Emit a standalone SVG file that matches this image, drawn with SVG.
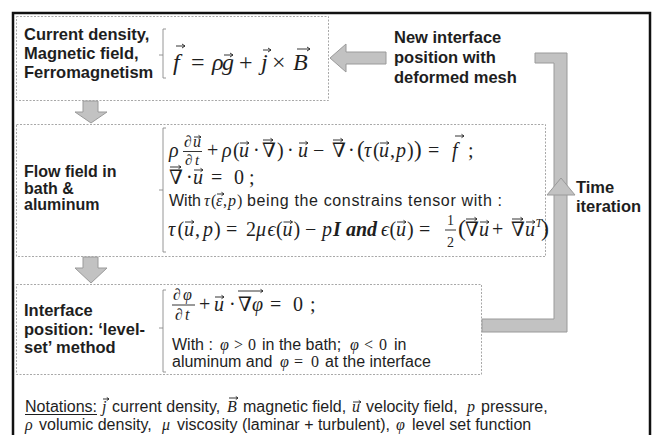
<svg xmlns="http://www.w3.org/2000/svg" width="653" height="435" viewBox="0 0 653 435">
<style>
.lbl{font-family:"Liberation Sans",Arial,sans-serif;font-weight:bold;font-size:16.5px;fill:#1e1e1e}
.mi{font-family:"Liberation Serif","DejaVu Serif",serif;font-style:italic;fill:#1e1e1e}
.mu{font-family:"Liberation Serif","DejaVu Serif",serif;font-style:normal;fill:#1e1e1e}
.mb{font-family:"Liberation Serif","DejaVu Serif",serif;font-style:italic;font-weight:bold;fill:#1e1e1e}
.tx{font-family:"Liberation Sans",Arial,sans-serif;font-style:normal;font-size:16px;fill:#1e1e1e}
.box{fill:none;stroke:#a8a8a8;stroke-width:1;stroke-dasharray:2 1.5}
.brk{fill:none;stroke:#8a8a8a;stroke-width:0.9}
.va{fill:none;stroke:#1e1e1e;stroke-width:0.9}
.bar{fill:none;stroke:#1e1e1e;stroke-width:0.9}
.blk{fill:#c2c2c2;stroke:#9a9a9a;stroke-width:1}
</style>
<rect x="0" y="0" width="653" height="435" fill="#ffffff"/>
<path d="M13 436 V13 H650 V436" fill="none" stroke="#111111" stroke-width="2.5"/>

<g id="connectors">
  <polygon class="blk" points="330,58 346,44 346,52 386,52 386,64 346,64 346,72"/>
  <polygon class="blk" points="83,101 98,101 98,112 107,112 91,123 75,112 83,112"/>
  <polygon class="blk" points="83,257 98,257 98,268 107,268 91,283 75,268 83,268"/>
  <polygon class="blk" points="482,319 554,319 554,63 535,63 535,53 567,53 567,332 482,332"/>
  <polygon class="blk" points="561,178 575,195 547,195"/>
  <text class="lbl" x="394" y="43">New interface</text>
  <text class="lbl" x="394" y="63">position with</text>
  <text class="lbl" x="394" y="83">deformed mesh</text>
  <text class="lbl" x="576" y="193">Time</text>
  <text class="lbl" x="576" y="212">iteration</text>
</g>

<g id="node-forces">
  <rect class="box" x="16.5" y="16.5" width="312" height="84"/>
  <text class="lbl" x="24" y="40">Current density,</text>
  <text class="lbl" x="24" y="59">Magnetic field,</text>
  <text class="lbl" x="24" y="78">Ferromagnetism</text>
  <path class="brk" d="M166 29 H163 V78 H166 M163 55 H159"/>
  <text class="mu" font-size="24" y="70"><tspan class="mi" x="173">f</tspan><tspan x="191">=</tspan><tspan class="mi" x="212 222">ρg</tspan><tspan x="239">+</tspan><tspan class="mi" x="261">j</tspan><tspan x="272">×</tspan><tspan class="mi" x="293">B</tspan></text>
  <path class="va" d="M176 46 H185 M182 44 L185 46 L182 48 M224 55 H233 M230 53 L233 55 L230 57 M263 50 H271 M268 48 L271 50 L268 52 M297 49 H310 M307 47 L310 49 L307 51"/>
</g>

<g id="node-flow">
  <rect class="box" x="16.5" y="124.5" width="529" height="132"/>
  <text class="lbl" font-size="16" style="font-size:16px" x="24" y="177">Flow field in</text>
  <text class="lbl" style="font-size:16px" x="24" y="193.5">bath &amp;</text>
  <text class="lbl" style="font-size:16px" x="24" y="210">aluminum</text>
  <path class="brk" d="M166 128 H163 V252 H166 M163 190 H159"/>
  <!-- line 1 -->
  <text class="mu" font-size="16" y="147"><tspan x="184">∂</tspan><tspan class="mi" x="193">u</tspan></text>
  <path class="bar" d="M183 151.5 H202"/>
  <text class="mu" font-size="15" y="164.5"><tspan x="185">∂</tspan><tspan class="mi" x="195">t</tspan></text>
  <text class="mu" font-size="20" y="157"><tspan class="mi" x="169">ρ</tspan><tspan x="207">+</tspan><tspan class="mi" x="222">ρ</tspan><tspan x="233">(</tspan><tspan class="mi" x="239">u</tspan><tspan x="253 262 277 287">·∇)·</tspan><tspan class="mi" x="298">u</tspan><tspan x="313 332 348">−∇·</tspan><tspan font-size="23" x="357">(</tspan><tspan class="mi" x="364">τ</tspan><tspan x="373">(</tspan><tspan class="mi" x="379">u</tspan><tspan x="390">,</tspan><tspan class="mi" x="396">p</tspan><tspan x="407">)</tspan><tspan font-size="23" x="414">)</tspan><tspan x="428">=</tspan><tspan class="mi" x="452">f</tspan><tspan x="468">;</tspan></text>
  <path class="va" d="M194 137 H201 M198.5 135.3 L201 137 L198.5 138.7 M240 143 H249 M246.5 141.3 L249 143 L246.5 144.7 M263 140 H273 M270.5 138.3 L273 140 L270.5 141.7 M299 143 H308 M305.5 141.3 L308 143 L305.5 144.7 M333 140 H343 M340.5 138.3 L343 140 L340.5 141.7 M380 143 H389 M386.5 141.3 L389 143 L386.5 144.7 M455 136 H464 M461.5 134.3 L464 136 L461.5 137.7"/>
  <!-- line 2 -->
  <text class="mu" font-size="20" y="184"><tspan x="169 186">∇·</tspan><tspan class="mi" x="193">u</tspan><tspan x="211 234 249">=0;</tspan></text>
  <path class="va" d="M170 167 H181 M178.5 165.3 L181 167 L178.5 168.7 M194 170 H203 M200.5 168.3 L203 170 L200.5 171.7"/>
  <!-- line 3 -->
  <text class="tx" y="206"><tspan x="169">With</tspan><tspan class="mi" font-size="16" x="204">τ</tspan><tspan class="mu" font-size="16" x="211">(</tspan><tspan class="mi" font-size="16" x="216">ε</tspan><tspan class="mu" font-size="16" x="223">,</tspan><tspan class="mi" font-size="16" x="228">p</tspan><tspan class="mu" font-size="16" x="237">)</tspan><tspan x="247" textLength="255" lengthAdjust="spacing">being the constrains tensor with :</tspan></text>
  <path class="va" d="M217 194 H224 M221.5 192.3 L224 194 L221.5 195.7"/>
  <!-- line 4 -->
  <text class="mu" font-size="20" y="236"><tspan class="mi" x="168">τ</tspan><tspan x="177.5">(</tspan><tspan class="mi" x="184">u</tspan><tspan x="195">,</tspan><tspan class="mi" x="203">p</tspan><tspan x="214 226 246">)=2</tspan><tspan class="mi" x="256 267.5">μϵ</tspan><tspan x="276">(</tspan><tspan class="mi" x="282.5">u</tspan><tspan x="293.5 305">)−</tspan><tspan class="mi" x="322">p</tspan><tspan class="mb" x="333">I</tspan><tspan class="mb" x="346">and</tspan><tspan class="mi" x="381">ϵ</tspan><tspan x="389.5">(</tspan><tspan class="mi" x="396">u</tspan><tspan x="407 419">)=</tspan><tspan font-size="24" x="458">(</tspan><tspan x="465">∇</tspan><tspan class="mi" x="479">u</tspan><tspan x="492 511">+∇</tspan><tspan class="mi" x="525">u</tspan><tspan font-size="24" x="541">)</tspan></text>
  <text class="mu" font-size="14" y="225" x="447">1</text>
  <path class="bar" d="M445 230 H456"/>
  <text class="mu" font-size="14" y="247" x="447">2</text>
  <text class="mi" font-size="12" y="227" x="535.5">T</text>
  <path class="va" d="M185 222 H194 M191.5 220.3 L194 222 L191.5 223.7 M283.5 222 H292.5 M290 220.3 L292.5 222 L290 223.7 M397 222 H406 M403.5 220.3 L406 222 L403.5 223.7 M466 219 H477 M474.5 217.3 L477 219 L474.5 220.7 M480 222 H489 M486.5 220.3 L489 222 L486.5 223.7 M512 219 H523 M520.5 217.3 L523 219 L520.5 220.7 M526 222 H535 M532.5 220.3 L535 222 L532.5 223.7"/>
</g>

<g id="node-levelset">
  <rect class="box" x="16.5" y="284.5" width="465" height="90"/>
  <text class="lbl" x="24" y="316">Interface</text>
  <text class="lbl" x="24" y="334.5">position: ‘level-</text>
  <text class="lbl" x="24" y="353">set’ method</text>
  <path class="brk" d="M166 290 H163 V372 H166 M163 328 H159"/>
  <text class="mu" font-size="16" y="300"><tspan x="173">∂</tspan><tspan class="mi" x="183">φ</tspan></text>
  <path class="bar" d="M172 305 H195"/>
  <text class="mu" font-size="16" y="320"><tspan x="175">∂</tspan><tspan class="mi" x="185">t</tspan></text>
  <text class="mu" font-size="20" y="311"><tspan x="199">+</tspan><tspan class="mi" x="214">u</tspan><tspan x="229 238">·∇</tspan><tspan class="mi" x="252">φ</tspan><tspan x="270 293 310">=0;</tspan></text>
  <path class="va" d="M215 297 H224 M221.5 295.3 L224 297 L221.5 298.7 M238 291 H263 M260.5 289.3 L263 291 L260.5 292.7"/>
  <text class="tx" y="350"><tspan x="172">With :</tspan><tspan class="mi" x="220">φ</tspan><tspan class="mu" x="234 248">&gt;0</tspan><tspan x="262">in the bath;</tspan><tspan class="mi" x="350">φ</tspan><tspan class="mu" x="364 379">&lt;0</tspan><tspan x="394">in</tspan></text>
  <text class="tx" y="367"><tspan x="172">aluminum and</tspan><tspan class="mi" x="280">φ</tspan><tspan class="mu" x="294 311">=0</tspan><tspan x="325">at the interface</tspan></text>
</g>

<g id="notations">
  <text class="tx" y="412"><tspan x="25">Notations:</tspan><tspan class="mi" x="102">j</tspan><tspan x="112">current density,</tspan><tspan class="mi" x="227">B</tspan><tspan x="243">magnetic field,</tspan><tspan class="mi" x="352">u</tspan><tspan x="366">velocity field,</tspan><tspan class="mi" x="467">p</tspan><tspan x="481">pressure,</tspan></text>
  <path d="M25 414.5 H97" stroke="#1e1e1e" stroke-width="1"/>
  <path class="va" d="M103 399 H109 M106.8 397.5 L109 399 L106.8 400.5 M229 398 H238 M235.8 396.5 L238 398 L235.8 399.5 M353 402 H361 M358.8 400.5 L361 402 L358.8 403.5"/>
  <text class="tx" y="430"><tspan class="mi" x="25">ρ</tspan><tspan x="39">volumic density,</tspan><tspan class="mi" x="162">μ</tspan><tspan x="177">viscosity (laminar + turbulent),</tspan><tspan class="mi" x="396">φ</tspan><tspan x="412">level set function</tspan></text>
</g>
</svg>
